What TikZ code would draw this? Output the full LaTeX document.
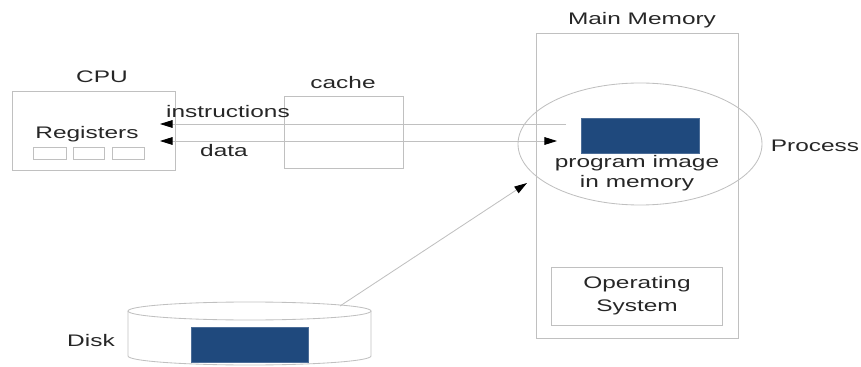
\documentclass[tikz,border=0pt]{standalone}
\usepackage{fontspec}
\setmainfont{Liberation Sans}[FakeStretch=1.46]
\usepackage{tikz}
\usetikzlibrary{arrows.meta}

\definecolor{linegray}{RGB}{192,192,192}
\definecolor{imgblue}{RGB}{31,73,125}

\begin{document}
\begin{tikzpicture}[x=0.025cm, y=-0.025cm,
  box/.style={linegray, line width=0.6pt},
  lbl/.style={font=\fontsize{11.9}{14.2}\selectfont, text=black!85, inner sep=0pt, align=center},
  img/.style={fill=imgblue, draw=imgblue!80, line width=0.4pt},
  >={Triangle[length=9pt,width=5.5pt,color=black]}]

\useasboundingbox (0,0) rectangle (861,367);

% CPU
\draw[box] (12,91) rectangle (175,170);
\node[lbl] (cpu) at (102,77) {CPU};
\node[lbl] (regs) at (87,134) {Registers};
\draw[box] (33,147) rectangle (66,159);
\draw[box] (73,147) rectangle (104,159);
\draw[box] (112,147) rectangle (144,159);

% cache
\draw[box] (284,96) rectangle (403,168);
\node[lbl] (cache) at (343,83) {cache};

% main memory
\draw[box] (536,33) rectangle (738,338);
\node[lbl] (mem) at (642,20) {Main Memory};
\draw[box] (640,144) ellipse [x radius=122, y radius=61];
\node[lbl] (proc) at (815,146) {Process};
\draw[img] (581,118) rectangle (699,153);
\node[lbl] (prog) at (637,173) {program image\\in memory};

\draw[box] (551,267) rectangle (722,325);
\node[lbl, font=\fontsize{11.9}{16.3}\selectfont] (os) at (637,296) {Operating\\System};

% disk
\draw[box] (128,311) -- (128,356) arc[start angle=180, end angle=0, x radius=121.5, y radius=9] -- (371,311);
\draw[box] (249.5,311) ellipse [x radius=121.5, y radius=9];
\draw[img] (191,327) rectangle (308,362);
\node[lbl] (disk) at (91,341) {Disk};

% transfers
\coordinate (ins-src) at (566,124);
\coordinate (ins-dst) at (160,124);
\coordinate (dat-cpu) at (160,141);
\coordinate (dat-mem) at (557,141);
\coordinate (disk-top) at (340,306);
\coordinate (mem-in) at (527,183);

\draw[box,->] (ins-src) -- (ins-dst);
\draw[box,<->] (dat-cpu) -- (dat-mem);
\draw[box,->] (disk-top) -- (mem-in);
\node[lbl] (ins) at (228,112) {instructions};
\node[lbl] (dat) at (224,151) {data};

\end{tikzpicture}
\end{document}
